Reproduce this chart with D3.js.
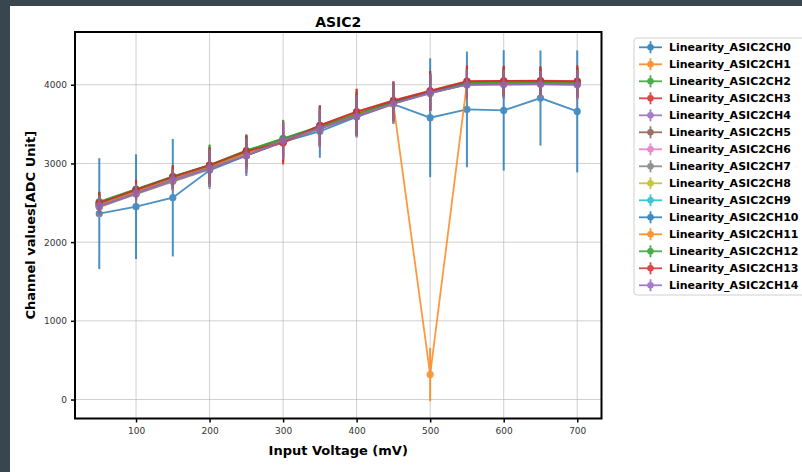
<!DOCTYPE html>
<html>
<head>
<meta charset="utf-8">
<script src="https://cdn.jsdelivr.net/npm/d3@7"></script>
<style>
  html, body { margin: 0; padding: 0; background: #37464f; }
  svg { display: block; }
  text { font-family: "DejaVu Sans", sans-serif; }
</style>
</head>
<body>
<svg id="chart" width="802" height="472"></svg>
<script>
const title = "ASIC2";
const xLabel = "Input Voltage (mV)";
const yLabel = "Channel values[ADC Unit]";
const voltages = [50, 100, 150, 200, 250, 300, 350, 400, 450, 500, 550, 600, 650, 700];
const xTicks = [100, 200, 300, 400, 500, 600, 700];
const yTicks = [0, 1000, 2000, 3000, 4000];
const channelNames = ["Linearity_ASIC2CH0","Linearity_ASIC2CH1","Linearity_ASIC2CH2","Linearity_ASIC2CH3","Linearity_ASIC2CH4","Linearity_ASIC2CH5","Linearity_ASIC2CH6","Linearity_ASIC2CH7","Linearity_ASIC2CH8","Linearity_ASIC2CH9","Linearity_ASIC2CH10","Linearity_ASIC2CH11","Linearity_ASIC2CH12","Linearity_ASIC2CH13","Linearity_ASIC2CH14"];
const colors = ["#1f77b4","#ff7f0e","#2ca02c","#d62728","#9467bd","#8c564b","#e377c2","#7f7f7f","#bcbd22","#17becf","#1f77b4","#ff7f0e","#2ca02c","#d62728","#9467bd"];

const ch0  = [2362, 2451, 2565, 2912, 3100, 3275, 3407, 3590, 3754, 3581, 3686, 3674, 3831, 3661];
const ch1  = [2470, 2635, 2800, 2945, 3120, 3285, 3450, 3615, 3770, 3900, 4010, 4020, 4025, 4020];
const ch2  = [2515, 2675, 2835, 2980, 3165, 3318, 3470, 3630, 3785, 3910, 4020, 4030, 4035, 4030];
const ch3  = [2495, 2660, 2825, 2975, 3150, 3260, 3485, 3660, 3800, 3925, 4045, 4050, 4052, 4045];
const ch4  = [2463, 2624, 2794, 2940, 3098, 3289, 3450, 3605, 3765, 3895, 4000, 4005, 4008, 4003];
const ch5  = [2455, 2620, 2785, 2935, 3105, 3270, 3440, 3600, 3760, 3890, 4005, 4012, 4015, 4010];
const ch6  = [2450, 2615, 2780, 2930, 3110, 3275, 3445, 3605, 3765, 3895, 4008, 4015, 4018, 4012];
const ch7  = [2445, 2610, 2770, 2925, 3110, 3280, 3445, 3610, 3768, 3898, 4010, 4018, 4020, 4015];
const ch8  = [2475, 2640, 2805, 2950, 3125, 3290, 3455, 3620, 3775, 3900, 4012, 4020, 4025, 4018];
const ch9  = [2485, 2650, 2815, 2960, 3135, 3300, 3465, 3625, 3780, 3905, 4015, 4022, 4026, 4020];
const ch10 = [2490, 2655, 2820, 2965, 3140, 3305, 3460, 3620, 3780, 3908, 4018, 4025, 4028, 4022];
const ch11 = [2480, 2645, 2810, 2958, 3135, 3300, 3462, 3622, 3754, 317, 4020, 4028, 4030, 4025];
const ch12 = [2505, 2670, 2830, 2975, 3160, 3312, 3468, 3628, 3782, 3910, 4022, 4030, 4033, 4028];
const ch13 = [2500, 2665, 2828, 2978, 3155, 3270, 3484, 3655, 3796, 3920, 4042, 4048, 4050, 4042];
const ch14 = [2463, 2624, 2794, 2940, 3098, 3289, 3450, 3598, 3760, 3900, 4000, 4002, 4005, 4000];

const err0  = [705, 665, 747, 150, 260, 200, 335, 180, 200, 755, 735, 765, 605, 775];
const err1  = [150, 120, 130, 200, 180, 270, 220, 250, 220, 220, 180, 170, 160, 200];
const err2  = [120, 110, 120, 260, 200, 220, 260, 280, 230, 240, 190, 180, 170, 190];
const err3  = [140, 130, 150, 220, 190, 275, 240, 290, 240, 250, 200, 190, 180, 200];
const err4  = [130, 120, 130, 240, 230, 230, 250, 270, 260, 230, 190, 180, 170, 190];
const err5  = [120, 110, 120, 230, 200, 240, 230, 250, 230, 220, 180, 170, 160, 180];
const err6  = [130, 120, 130, 220, 210, 230, 240, 260, 240, 230, 190, 180, 170, 190];
const err7  = [120, 110, 120, 250, 200, 220, 230, 250, 230, 220, 180, 170, 160, 180];
const err8  = [140, 130, 140, 230, 210, 240, 240, 260, 240, 240, 190, 190, 180, 200];
const err9  = [120, 110, 120, 220, 200, 230, 230, 250, 230, 230, 200, 180, 170, 190];
const err10 = [130, 120, 130, 230, 210, 240, 240, 260, 240, 230, 190, 180, 170, 190];
const err11 = [140, 130, 140, 230, 200, 250, 240, 260, 240, 340, 190, 180, 170, 210];
const err12 = [130, 120, 130, 260, 210, 240, 250, 280, 240, 240, 190, 180, 170, 190];
const err13 = [140, 130, 150, 230, 200, 260, 250, 290, 250, 250, 200, 190, 180, 200];
const err14 = [130, 120, 130, 240, 220, 240, 250, 270, 260, 240, 190, 180, 170, 190];

const values = [ch0, ch1, ch2, ch3, ch4, ch5, ch6, ch7, ch8, ch9, ch10, ch11, ch12, ch13, ch14];
const errors = [err0, err1, err2, err3, err4, err5, err6, err7, err8, err9, err10, err11, err12, err13, err14];

const svg = d3.select("#chart");
// white figure area (dark border top/left)
svg.append("rect").attr("x", 10).attr("y", 6).attr("width", 792).attr("height", 466).attr("fill", "#ffffff");

const plot = { left: 75, right: 601.5, top: 32, bottom: 418.5 };
const x = d3.scaleLinear().domain([17, 733]).range([plot.left, plot.right]);
const y = d3.scaleLinear().domain([-241, 4670]).range([plot.bottom, plot.top]);

// grid
const grid = svg.append("g");
grid.selectAll(".gx").data(xTicks).enter().append("line")
  .attr("x1", d => x(d)).attr("x2", d => x(d)).attr("y1", plot.top).attr("y2", plot.bottom)
  .attr("stroke", "#b0b0b0").attr("stroke-opacity", 0.6).attr("stroke-width", 1);
grid.selectAll(".gy").data(yTicks).enter().append("line")
  .attr("y1", d => y(d)).attr("y2", d => y(d)).attr("x1", plot.left).attr("x2", plot.right)
  .attr("stroke", "#b0b0b0").attr("stroke-opacity", 0.6).attr("stroke-width", 1);

// clip
svg.append("clipPath").attr("id", "clip").append("rect")
  .attr("x", plot.left).attr("y", plot.top).attr("width", plot.right - plot.left).attr("height", plot.bottom - plot.top);
const marks = svg.append("g").attr("clip-path", "url(#clip)");

const line = d3.line().x((d, i) => x(voltages[i])).y(d => y(d));
values.forEach((vals, c) => {
  const g = marks.append("g").attr("opacity", 0.8);
  g.selectAll("line.err").data(vals).enter().append("line")
    .attr("x1", (d, i) => x(voltages[i])).attr("x2", (d, i) => x(voltages[i]))
    .attr("y1", (d, i) => y(d - errors[c][i])).attr("y2", (d, i) => y(d + errors[c][i]))
    .attr("stroke", colors[c]).attr("stroke-width", 2);
  g.append("path").datum(vals).attr("d", line).attr("fill", "none")
    .attr("stroke", colors[c]).attr("stroke-width", 1.8);
  g.selectAll("circle").data(vals).enter().append("circle")
    .attr("cx", (d, i) => x(voltages[i])).attr("cy", d => y(d)).attr("r", 3.6)
    .attr("fill", colors[c]);
});

// axes
const xAxis = d3.axisBottom(x).tickValues(xTicks).tickSize(4).tickPadding(5).tickFormat(d3.format("d"));
const yAxis = d3.axisLeft(y).tickValues(yTicks).tickSize(4).tickPadding(4).tickFormat(d3.format("d"));
const gx = svg.append("g").attr("transform", `translate(0,${plot.bottom})`).call(xAxis);
const gy = svg.append("g").attr("transform", `translate(${plot.left},0)`).call(yAxis);
[gx, gy].forEach(g => {
  g.select(".domain").remove();
  g.selectAll(".tick line").attr("stroke", "#000").attr("stroke-width", 1.5);
  g.selectAll(".tick text").attr("fill", "#333").attr("font-size", "9px")
    .attr("font-family", "DejaVu Sans, sans-serif");
});

// frame
svg.append("rect").attr("x", plot.left).attr("y", plot.top)
  .attr("width", plot.right - plot.left).attr("height", plot.bottom - plot.top)
  .attr("fill", "none").attr("stroke", "#000").attr("stroke-width", 2);

// title & labels
svg.append("text").attr("x", (plot.left + plot.right) / 2).attr("y", 27)
  .attr("text-anchor", "middle").attr("font-size", "14px").attr("font-weight", "bold").text(title);
svg.append("text").attr("x", (plot.left + plot.right) / 2).attr("y", 455)
  .attr("text-anchor", "middle").attr("font-size", "13px").attr("font-weight", "bold").text(xLabel);
svg.append("text").attr("transform", `translate(35,${(plot.top + plot.bottom) / 2}) rotate(-90)`)
  .attr("text-anchor", "middle").attr("font-size", "13px").attr("font-weight", "bold").text(yLabel);

// legend
const leg = svg.append("g");
leg.append("rect").attr("x", 634).attr("y", 38).attr("width", 190).attr("height", 257)
  .attr("rx", 3).attr("fill", "#fff").attr("stroke", "#d0d0d0").attr("stroke-width", 1);
const rowY = i => 47.3 + i * 17;
channelNames.forEach((name, i) => {
  const r = leg.append("g").attr("opacity", 0.85);
  r.append("line").attr("x1", 639).attr("x2", 662).attr("y1", rowY(i)).attr("y2", rowY(i))
    .attr("stroke", colors[i]).attr("stroke-width", 1.8);
  r.append("line").attr("x1", 650.5).attr("x2", 650.5).attr("y1", rowY(i) - 6).attr("y2", rowY(i) + 6)
    .attr("stroke", colors[i]).attr("stroke-width", 1.8);
  r.append("circle").attr("cx", 650.5).attr("cy", rowY(i)).attr("r", 3.3).attr("fill", colors[i]);
  leg.append("text").attr("x", 669).attr("y", rowY(i) + 4).attr("font-size", "11px")
    .attr("font-weight", "bold").attr("fill", "#000").text(name);
});
</script>
</body>
</html>
